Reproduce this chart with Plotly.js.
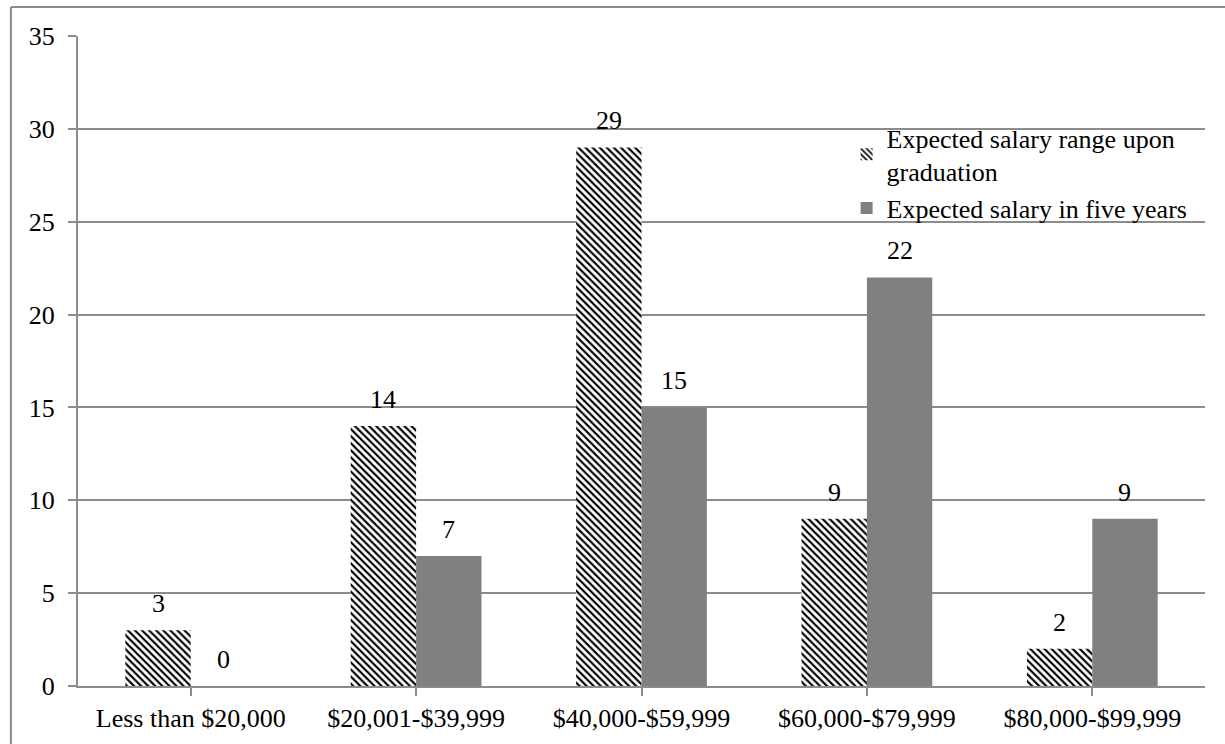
<!DOCTYPE html>
<html>
<head>
<meta charset="utf-8">
<script src="https://cdn.plot.ly/plotly-3.0.1.min.js"></script>
<style>
  html, body { margin: 0; padding: 0; background: #fff; overflow: hidden; }
  #chart { width: 1225px; height: 744px; }
</style>
</head>
<body>
<div id="chart"></div>
<script>
// Salary ranges surveyed
const categories = [
  'Less than $20,000',
  '$20,001-$39,999',
  '$40,000-$59,999',
  '$60,000-$79,999',
  '$80,000-$99,999'
];
const seriesNames = [
  'Expected salary range upon<br>graduation',
  'Expected salary in five years'
];
const uponGraduation = [3, 14, 29, 9, 2];
const inFiveYears = [0, 7, 15, 22, 9];
const yTicks = [0, 5, 10, 15, 20, 25, 30, 35];

const FONT = 'Liberation Serif, Times New Roman, serif';
const GRID = '#8c8c8c';
const BAR_W = 0.29;

const xIdx = categories.map((_, i) => i);

const traces = [
  {
    type: 'bar',
    name: seriesNames[0],
    x: xIdx,
    y: uponGraduation,
    width: BAR_W,
    offset: -BAR_W,
    marker: {
      color: '#ffffff',
      line: { width: 0 },
      pattern: { shape: '\\', fgcolor: '#000000', bgcolor: '#ffffff', size: 5, solidity: 0.42 }
    },
    hoverinfo: 'skip'
  },
  {
    type: 'bar',
    name: seriesNames[1],
    x: xIdx,
    y: inFiveYears,
    width: BAR_W,
    offset: 0,
    marker: { color: '#808080', line: { width: 0 } },
    hoverinfo: 'skip'
  }
];

// value labels above each bar
const annotations = [];
[[uponGraduation, -BAR_W / 2], [inFiveYears, BAR_W / 2]].forEach(([vals, dx]) => {
  vals.forEach((v, i) => {
    annotations.push({
      x: i + dx, y: v, xref: 'x', yref: 'y',
      text: String(v), showarrow: false,
      yanchor: 'bottom', yshift: 10,
      font: { family: FONT, size: 26, color: '#000' }
    });
  });
});

const layout = {
  width: 1225,
  height: 744,
  margin: { l: 78, r: 20, t: 36, b: 58 },
  paper_bgcolor: '#ffffff',
  plot_bgcolor: '#ffffff',
  font: { family: FONT, size: 26, color: '#000' },
  showlegend: true,
  legend: {
    x: 0.682, y: 0.88, xanchor: 'left', yanchor: 'top',
    bgcolor: 'rgba(0,0,0,0)',
    font: { family: FONT, size: 26, color: '#000' },
    itemwidth: 30,
    tracegroupgap: 0
  },
  xaxis: {
    tickmode: 'array',
    tickvals: xIdx,
    ticktext: categories,
    range: [-0.5, 4.5],
    showgrid: false,
    showline: true,
    linecolor: GRID,
    linewidth: 2,
    ticks: 'outside',
    tickson: 'boundaries',
    ticklen: 8,
    tickwidth: 2,
    tickcolor: GRID,
    zeroline: false,
    tickfont: { family: FONT, size: 26, color: '#000' },
    fixedrange: true
  },
  yaxis: {
    range: [0, 35],
    tickmode: 'array',
    tickvals: yTicks,
    showgrid: true,
    gridcolor: GRID,
    gridwidth: 2,
    showline: true,
    linecolor: GRID,
    linewidth: 2,
    ticks: 'outside',
    ticklen: 8,
    tickwidth: 2,
    tickcolor: GRID,
    zeroline: false,
    tickfont: { family: FONT, size: 26, color: '#000' },
    ticklabelstandoff: 8,
    fixedrange: true
  },
  annotations: annotations,
  shapes: [
    // frame around the chart
    { type: 'line', xref: 'paper', yref: 'paper', x0: -0.0595, x1: 1.05, y0: 1.0446, y1: 1.0446,
      line: { color: GRID, width: 2 } },
    { type: 'line', xref: 'paper', yref: 'paper', x0: -0.0595, x1: -0.0595, y0: 1.0446, y1: -0.12,
      line: { color: GRID, width: 2 } }
  ]
};

Plotly.newPlot('chart', traces, layout, { displayModeBar: false, staticPlot: true });
</script>
</body>
</html>
